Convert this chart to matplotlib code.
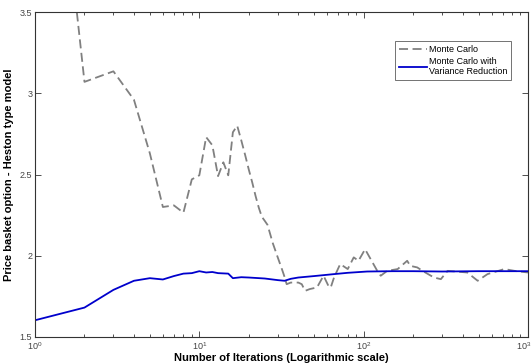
import matplotlib
matplotlib.use("Agg")
import matplotlib.pyplot as plt
import matplotlib.transforms as mtransforms
from matplotlib.ticker import LogLocator, NullFormatter

plt.rcParams['font.family'] = ['Liberation Sans', 'DejaVu Sans']
plt.rcParams['mathtext.fontset'] = 'custom'
plt.rcParams['mathtext.rm'] = 'Liberation Sans'

# Monte Carlo (plain) estimates vs number of iterations
mc_n = [1, 2, 3, 4, 5, 6, 7, 8, 9, 10, 11, 12, 13, 14, 15, 16, 17, 18, 19, 20,
        21, 22, 23, 24, 25, 26, 28, 30, 32, 33, 34, 36, 40, 42, 44, 47, 52, 57,
        61, 63, 66, 72, 80, 87, 93, 102, 121, 127, 139, 161, 184, 192, 212, 228,
        268, 295, 324, 427, 494, 567, 718, 850, 1000]
mc_v = [5.85, 3.07, 3.135, 2.96, 2.63, 2.30, 2.31, 2.265, 2.47, 2.495, 2.73, 2.68,
        2.49, 2.575, 2.495, 2.76, 2.80, 2.71, 2.62, 2.53, 2.45, 2.367, 2.296, 2.24,
        2.215, 2.19, 2.077, 1.99, 1.91, 1.87, 1.825, 1.835, 1.835, 1.825, 1.784,
        1.795, 1.805, 1.877, 1.815, 1.804, 1.866, 1.949, 1.918, 1.99, 1.969, 2.04,
        1.907, 1.877, 1.907, 1.918, 1.969, 1.938, 1.928, 1.907, 1.866, 1.856,
        1.907, 1.897, 1.846, 1.887, 1.918, 1.905, 1.897]

# Monte Carlo with variance reduction
vr_n = [1, 2, 3, 4, 5, 6, 7, 8, 9, 10, 11, 12, 13, 15, 16, 18, 20, 25, 30, 33,
        36, 40, 50, 66, 80, 105, 150, 200, 300, 500, 700, 1000]
vr_v = [1.603, 1.681, 1.79, 1.846, 1.862, 1.854, 1.875, 1.89, 1.893, 1.905, 1.897,
        1.9, 1.893, 1.89, 1.862, 1.868, 1.866, 1.86, 1.85, 1.846, 1.858, 1.866,
        1.875, 1.887, 1.895, 1.903, 1.905, 1.905, 1.903, 1.905, 1.905, 1.905]

yticks = [1.5, 2, 2.5, 3, 3.5]
ytick_labels = ['1.5', '2', '2.5', '3', '3.5']
xticks = [1, 10, 100, 1000]
xtick_labels = [r'$10^{0}$', r'$10^{1}$', r'$10^{2}$', r'$10^{3}$']

fig = plt.figure(figsize=(5.32, 3.64), dpi=100)
ax = fig.add_axes([35/532, 27/364, 493/532, 325/364])

ax.plot(mc_n, mc_v, color='#808080', lw=1.3, dashes=(5, 2.5), label='Monte Carlo')
ax.plot(vr_n, vr_v, color='#0000cc', lw=1.3, label='Monte Carlo with\nVariance Reduction')

ax.set_xscale('log')
ax.set_xlim(1, 1000)
ax.set_ylim(1.5, 3.5)
ax.set_xticks(xticks)
ax.set_xticklabels(xtick_labels)
ax.xaxis.set_minor_locator(LogLocator(base=10, subs=range(2, 10)))
ax.xaxis.set_minor_formatter(NullFormatter())
ax.set_yticks(yticks)
ax.set_yticklabels(ytick_labels)

ax.tick_params(which='both', direction='in', top=True, right=True,
               labelsize=6.5, colors='#333333', labelcolor='#444444', width=0.6)
ax.tick_params(which='major', length=4)
ax.tick_params(axis='x', which='major', pad=2.5)
ax.tick_params(axis='y', which='major', pad=2)
ax.tick_params(which='minor', length=2.5)
for s in ax.spines.values():
    s.set_linewidth(0.8)
    s.set_color('#333333')

# nudge the last x tick label so it stays inside the figure
last = ax.get_xticklabels()[-1]
last.set_transform(last.get_transform() +
                   mtransforms.ScaledTranslation(-4/100, 0, fig.dpi_scale_trans))

ax.set_xlabel('Number of Iterations (Logarithmic scale)', fontsize=8,
              fontweight='bold')
ax.set_ylabel('Price basket option - Heston type model', fontsize=8,
              fontweight='bold')
ax.xaxis.set_label_coords(0.5, -0.05)
ax.yaxis.set_label_coords(-0.043, 0.5)

leg = ax.legend(loc='upper right', bbox_to_anchor=(0.966, 0.91), fontsize=6.5,
                frameon=True, fancybox=False, edgecolor='#333333',
                handlelength=3.2, handletextpad=0.2, borderpad=0.4,
                labelspacing=0.3, borderaxespad=0)
leg.get_frame().set_linewidth(0.6)

fig.savefig('out.png', dpi=100)
